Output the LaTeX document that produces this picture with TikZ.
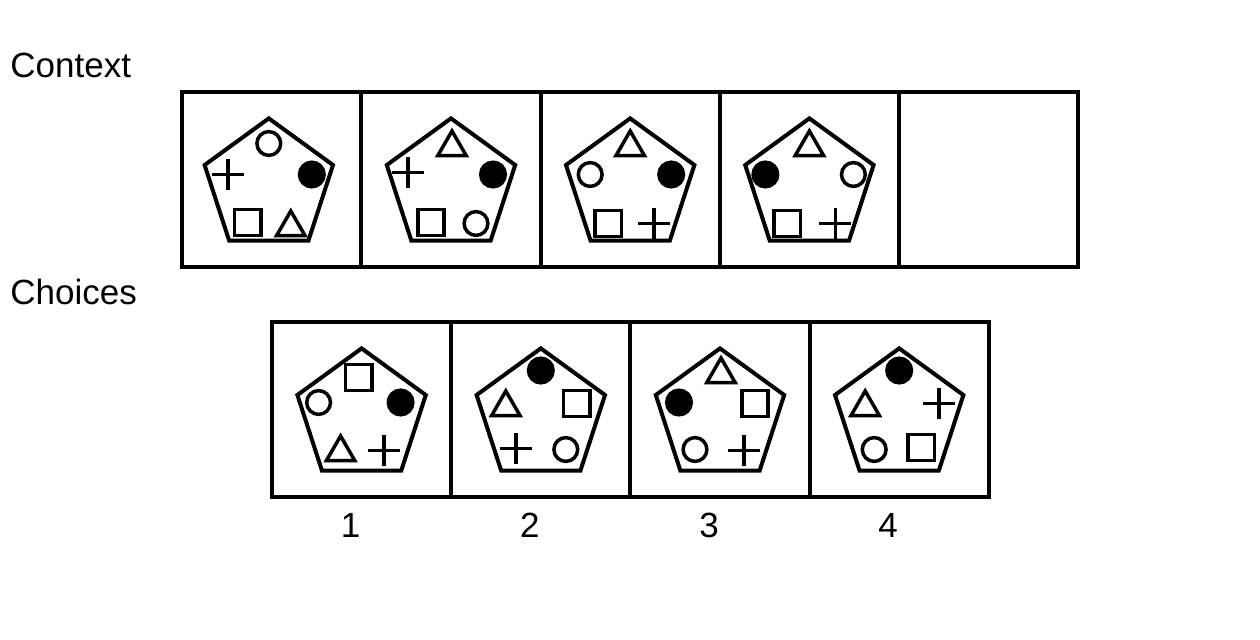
\documentclass[tikz,border=0pt]{standalone}
\usepackage{fontspec}
\setmainfont{Liberation Sans}
\usetikzlibrary{positioning,shapes.geometric,shapes.misc}
\tikzset{
  cell/.style = {rectangle, draw, line width=2pt, minimum width=89.6pt, minimum height=87.5pt,
                 inner sep=0pt, outer sep=0pt},
  pent/.style = {regular polygon, regular polygon sides=5, draw, line width=2pt,
                 minimum size=67.5pt, inner sep=0pt},
  ring/.style = {circle, draw, line width=1.75pt, minimum size=11.9pt, inner sep=0pt},
  blob/.style = {circle, draw, fill, line width=1.75pt, minimum size=12.3pt, inner sep=0pt},
  sqr/.style  = {rectangle, draw, line width=1.75pt, minimum size=13.2pt, inner sep=0pt},
  tri/.style  = {regular polygon, regular polygon sides=3, draw, line width=1.75pt,
                 minimum size=16.5pt, inner sep=0pt},
  crs/.style  = {cross out, draw, line width=1.9pt, minimum size=9.4pt, inner sep=0pt, rotate=45},
  lbl/.style  = {anchor=base west, inner sep=0pt, font=\fontsize{17.5}{21}\selectfont},
  num/.style  = {anchor=base, inner sep=0pt, font=\fontsize{17.5}{21}\selectfont},
}
\begin{document}
\begin{tikzpicture}[x=0.5pt, y=-0.5pt]
  \useasboundingbox (0,0) rectangle (1260,640);
  \node[lbl] (ctx) at (10,77.7) {Context};
  \node[lbl] (chc) at (10,304.3) {Choices};

  % context row
  \node[cell] (c1) at (271.8,179.5) {};
  \node[cell, right=0pt of c1] (c2) {};
  \node[cell, right=0pt of c2] (c3) {};
  \node[cell, right=0pt of c3] (c4) {};
  \node[cell, right=0pt of c4] (c5) {};

  % choices row
  \node[cell] (a1) at (361.6,409.5) {};
  \node[cell, right=0pt of a1] (a2) {};
  \node[cell, right=0pt of a2] (a3) {};
  \node[cell, right=0pt of a3] (a4) {};

  \node[pent] (c1p) at ([xshift=-1.5pt,yshift=-3.2pt]c1.center) {};
  \foreach \c in {c2,c3,c4,a1,a2,a3,a4}
    \node[pent] (\c p) at ([yshift=-3.2pt]\c.center) {};

  \foreach \s/\dx/\dy [count=\i] in {ring/-3/-36, crs/-44/-5, blob/40/-5, sqr/-24/43, tri/19/48}
    \node[\s] (c1s\i) at ([shift={(\dx,\dy)}]c1.center) {};
  \foreach \s/\dx/\dy [count=\i] in {tri/1/-32, crs/-43/-7, blob/42/-5, sqr/-20/43, ring/25/44}
    \node[\s] (c2s\i) at ([shift={(\dx,\dy)}]c2.center) {};
  \foreach \s/\dx/\dy [count=\i] in {tri/0/-32, ring/-40/-5, blob/41/-5, sqr/-22/44, crs/24/44}
    \node[\s] (c3s\i) at ([shift={(\dx,\dy)}]c3.center) {};
  \foreach \s/\dx/\dy [count=\i] in {tri/0/-32, blob/-44/-5, ring/44/-5, sqr/-22/44, crs/26/44}
    \node[\s] (c4s\i) at ([shift={(\dx,\dy)}]c4.center) {};

  \foreach \s/\dx/\dy [count=\i] in {sqr/-3/-32, ring/-43/-7, blob/39/-7, tri/-21/43, crs/22/41}
    \node[\s] (a1s\i) at ([shift={(\dx,\dy)}]a1.center) {};
  \foreach \s/\dx/\dy [count=\i] in {blob/0/-39, tri/-35/-2, sqr/36/-6, crs/-25/39, ring/25/40}
    \node[\s] (a2s\i) at ([shift={(\dx,\dy)}]a2.center) {};
  \foreach \s/\dx/\dy [count=\i] in {tri/1/-35, blob/-41/-7, sqr/35/-6, ring/-25/40, crs/24/41}
    \node[\s] (a3s\i) at ([shift={(\dx,\dy)}]a3.center) {};
  \foreach \s/\dx/\dy [count=\i] in {blob/0/-39, tri/-34/-2, crs/40/-6, ring/-25/40, sqr/22/38}
    \node[\s] (a4s\i) at ([shift={(\dx,\dy)}]a4.center) {};

  \foreach \c/\t in {a1/1,a2/2,a3/3,a4/4}
    \node[num] (n\t) at ([xshift=-5.5pt,yshift=-20.5pt]\c.south) {\t};
\end{tikzpicture}
\end{document}
